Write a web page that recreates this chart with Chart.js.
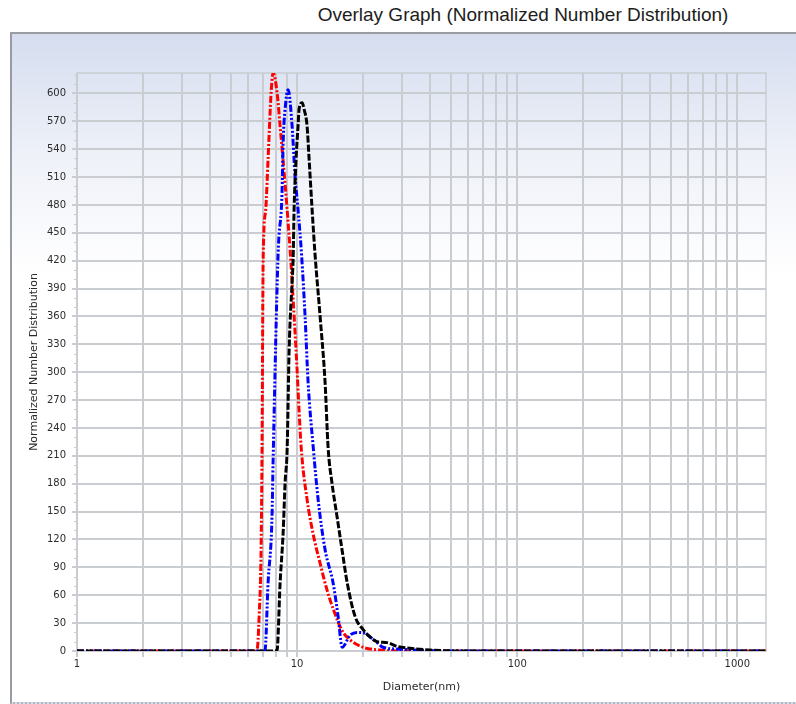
<!DOCTYPE html>
<html>
<head>
<meta charset="utf-8">
<script src="https://cdn.jsdelivr.net/npm/chart.js@4.4.1/dist/chart.umd.min.js"></script>
<style>
  html, body { margin: 0; padding: 0; background: #fff; width: 796px; height: 704px; overflow: hidden; }
  #title {
    position: absolute; left: 298px; top: 4px; width: 450px; text-align: center;
    font-family: "Liberation Sans", Arial, sans-serif; font-size: 19px; color: #1c1c1c;
  }
  #panel {
    position: absolute; left: 10px; top: 32px; width: 786px; height: 668px;
    border-left: 2px solid #979ca2; border-top: 2px solid #9a9ea3;
    border-bottom: 2px dotted #b4b7ba;
    background: linear-gradient(to bottom, #d5ddef 0px, #eef1f8 120px, #ffffff 240px);
  }
  #raceChart { position: absolute; left: 0; top: 0; }
</style>
</head>
<body>
<div id="title">Overlay Graph (Normalized Number Distribution)</div>
<div id="panel"></div>
<canvas id="raceChart" width="796" height="704"></canvas>
<script>
// diameters (nm) and normalized number values
const blackDiam = [1, 7.9, 8.11, 8.37, 8.64, 8.82, 9.01, 9.2, 9.49, 9.59, 9.69, 9.89, 10.1, 10.21, 10.54, 10.76, 11.1, 11.34, 11.7, 12.08, 12.72, 13.4, 13.83, 14.4, 15.2, 16.0, 16.9, 18.35, 19.95, 21.5, 23.1, 25.6, 28.5, 32.6, 40.2, 56.8, 1350];
const blackValues = [0, 0, 1, 73, 127, 181, 217, 324, 397, 421, 475, 529, 565, 583, 590, 583, 565, 529, 475, 425, 360, 289, 219, 181, 144, 109, 73, 37, 23, 15, 10, 9, 5, 3, 1, 0, 0];

const blueDiam = [1, 7.0, 7.15, 7.38, 7.69, 7.78, 8.2, 8.54, 8.64, 8.82, 9.1, 9.49, 9.79, 10.1, 10.48, 10.87, 11.22, 11.83, 12.46, 13.4, 14.58, 15.36, 16.02, 17.4, 18.74, 20.4, 21.5, 23.1, 24.6, 29.4, 44.7, 1350];
const blueValues = [0, 0, 1, 73, 144, 205, 428, 493, 547, 583, 604, 565, 511, 475, 426, 360, 289, 220, 163, 109, 73, 37, 4, 17, 20, 19, 15, 9, 4, 2, 0, 0];

const redDiam = [1, 6.5, 6.58, 6.72, 6.86, 6.93, 7.01, 7.2, 7.38, 7.62, 7.78, 8.11, 8.37, 8.63, 9.01, 9.29, 9.89, 10.43, 11.1, 11.8, 12.7, 13.7, 14.6, 16.0, 17.4, 19.95, 23.8, 29.4, 1350];
const redValues = [0, 0, 1, 37, 109, 217, 421, 475, 529, 601, 622, 601, 565, 529, 475, 432, 324, 220, 163, 127, 95, 65, 45, 22, 12, 4, 1, 0, 0];

const xGridValues = [1, 2, 3, 4, 5, 6, 7, 8, 9, 10, 20, 30, 40, 50, 60, 70, 80, 90, 100, 200, 300, 400, 500, 600, 700, 800, 900, 1000];
const xLabelValues = [1, 10, 100, 1000];
const yTickValues = [0, 30, 60, 90, 120, 150, 180, 210, 240, 270, 300, 330, 360, 390, 420, 450, 480, 510, 540, 570, 600];
const yMinorValues = [10, 20, 40, 50, 70, 80, 100, 110, 130, 140, 160, 170, 190, 200, 220, 230, 250, 260, 280, 290, 310, 320, 340, 350, 370, 380, 400, 410, 430, 440, 460, 470, 490, 500, 520, 530, 550, 560, 580, 590, 610, 620];

const X_MIN = 1, X_MAX = 1350, Y_MIN = 0, Y_MAX = 622;
const GRID = '#c9cdd2';
const FONT = { family: 'DejaVu Sans', size: 10 };
const TITLE_FONT = { family: 'DejaVu Sans', size: 11 };

const toPoints = (xs, ys) => xs.map((x, i) => ({ x, y: ys[i] }));

// plot frame plus the small minor ticks on the y axis
const frameMarks = {
    id: 'frameMarks',
    beforeDatasetsDraw(chart) {
        const { ctx, chartArea: a, scales } = chart;
        ctx.save();
        ctx.strokeStyle = GRID;
        ctx.lineWidth = 1.5;
        ctx.strokeRect(a.left, a.top, a.right - a.left, a.bottom - a.top);
        ctx.lineWidth = 1;
        ctx.beginPath();
        yMinorValues.forEach(v => {
            const y = Math.round(scales.y.getPixelForValue(v)) + 0.5;
            ctx.moveTo(a.left - 3, y);
            ctx.lineTo(a.left, y);
        });
        ctx.stroke();
        ctx.restore();
    }
};

const lineStyle = (color, dash) => ({
    borderColor: color,
    borderWidth: 3,
    borderDash: dash,
    pointRadius: 0,
    fill: false,
    cubicInterpolationMode: 'monotone'
});

new Chart(document.getElementById('raceChart'), {
    type: 'line',
    data: {
        datasets: [
            { data: toPoints(blackDiam, blackValues), ...lineStyle('#000000', [7, 2]) },
            { data: toPoints(blueDiam, blueValues), ...lineStyle('#0000ff', [7, 2, 2, 2, 2, 2]) },
            { data: toPoints(redDiam, redValues), ...lineStyle('#ff0000', [7, 2, 2, 2]) }
        ]
    },
    options: {
        responsive: false,
        animation: false,
        events: [],
        layout: { padding: { left: 10, right: 30, top: 73, bottom: 0 } },
        plugins: { legend: { display: false }, tooltip: { enabled: false } },
        scales: {
            x: {
                type: 'logarithmic',
                min: X_MIN,
                max: X_MAX,
                afterBuildTicks: s => { s.ticks = xGridValues.map(v => ({ value: v })); },
                afterFit: s => { s.height = 53; },
                border: { display: false },
                grid: { color: GRID, lineWidth: 2, tickLength: 6 },
                ticks: {
                    autoSkip: false, maxRotation: 0, padding: 1,
                    color: '#2b2b2b', font: FONT,
                    callback: v => xLabelValues.includes(v) ? String(v) : ''
                },
                title: {
                    display: true, text: 'Diameter(nm)', color: '#2b2b2b',
                    font: TITLE_FONT, padding: { top: 0, bottom: 10 }
                }
            },
            y: {
                min: Y_MIN,
                max: Y_MAX,
                afterBuildTicks: s => { s.ticks = yTickValues.map(v => ({ value: v })); },
                afterFit: s => { s.width = 67; },
                border: { display: false },
                grid: { color: GRID, lineWidth: 2, tickLength: 5 },
                ticks: { autoSkip: false, padding: 6, color: '#2b2b2b', font: FONT },
                title: {
                    display: true, text: 'Normalized Number Distribution', color: '#2b2b2b',
                    font: TITLE_FONT, padding: { top: 18, bottom: 0 }
                }
            }
        }
    },
    plugins: [frameMarks]
});
</script>
</body>
</html>
